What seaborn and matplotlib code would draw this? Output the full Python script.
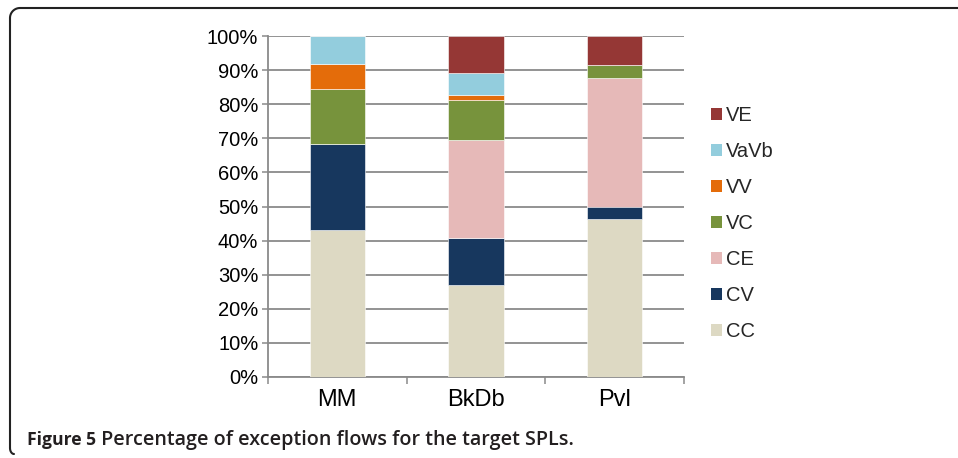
import numpy as np
import pandas as pd
import matplotlib
matplotlib.use("Agg")
import matplotlib.pyplot as plt
from matplotlib.lines import Line2D
from matplotlib.patches import Patch
import seaborn as sns

categories = ["MM", "BkDb", "Pvl"]
types = ["CC", "CV", "CE", "VC", "VV", "VaVb", "VE"]
cc = [43.1, 27.1, 46.2]
cv = [25.1, 13.6, 3.8]
ce = [0.0, 28.7, 37.8]
vc = [16.3, 11.9, 3.7]
vv = [7.3, 1.4, 0.0]
vavb = [8.2, 6.5, 0.0]
ve = [0.0, 10.8, 8.5]
colors = ["#DDD9C3", "#17375E", "#E6B9B8", "#77933C", "#E46C0A", "#93CDDD", "#953735"]
yticks = list(range(0, 101, 10))
caption_bold = "Figure 5"
caption_rest = " Percentage of exception flows for the target SPLs."

series = [cc, cv, ce, vc, vv, vavb, ve]
rows = []
for t, vals in zip(types, series):
    for c, v in zip(categories, vals):
        rows.append({"spl": c, "type": t, "value": v})
df = pd.DataFrame(rows)
df["spl"] = pd.Categorical(df["spl"], categories=categories, ordered=True)

sns.set_theme(style="white")
plt.rcParams["font.family"] = ["Liberation Sans", "DejaVu Sans"]

fig = plt.figure(figsize=(9.58, 4.58), dpi=100)
ax = fig.add_axes([268 / 958, 1 - 377 / 458, (684 - 268) / 958, (377 - 36) / 458])

palette = dict(zip(types, colors))
sns.histplot(data=df, x="spl", weights="value", hue="type",
             hue_order=types[::-1], palette=palette, multiple="stack",
             discrete=True, shrink=0.4, alpha=1, legend=False,
             edgecolor="white", linewidth=0.4, ax=ax, zorder=3)

ax.set_xlim(-0.5, 2.5)
ax.set_ylim(0, 100)
ax.set_yticks(yticks)
ax.set_yticklabels([f"{v}%" for v in yticks], fontsize=14.5, color="black")
ax.set_xticks(range(len(categories)))
ax.set_xticklabels(categories, fontsize=17, color="black")
ax.set_xticks([-0.5, 0.5, 1.5, 2.5], minor=True)
ax.set_xlabel("")
ax.set_ylabel("")
ax.grid(axis="y", color="#8a8a8a", linewidth=1.3, zorder=0)
ax.grid(axis="x", visible=False)
ax.set_axisbelow(True)
for s in ["top", "right"]:
    ax.spines[s].set_visible(False)
for s in ["left", "bottom"]:
    ax.spines[s].set_visible(True)
    ax.spines[s].set_color("#8a8a8a")
    ax.spines[s].set_linewidth(1.3)
ax.tick_params(axis="y", which="major", left=True, length=4.5, width=1.1, color="#8a8a8a", pad=2.5)
ax.tick_params(axis="x", which="major", bottom=False, length=0, pad=9)
ax.tick_params(axis="x", which="minor", bottom=True, length=5, width=1.1, color="#8a8a8a")

handles = [Patch(facecolor=palette[t], edgecolor="none") for t in types[::-1]]
leg = ax.legend(handles, types[::-1], loc="center left", bbox_to_anchor=(1.045, 0.45),
                frameon=False, fontsize=14.5, handlelength=0.55, handleheight=0.55,
                handletextpad=0.2, labelspacing=0.84, borderaxespad=0)

# frame lines (top and left with rounded corners)
fig.add_artist(Line2D([20 / 958, 1.0], [1 - 8 / 458, 1 - 8 / 458], color="#222222", lw=1.5))
fig.add_artist(Line2D([10 / 958, 10 / 958], [1 - 18 / 458, 1 - 448 / 458], color="#222222", lw=1.5))
t = np.linspace(0, np.pi / 2, 20)
r = 10
cx, cy = 20, 18
fig.add_artist(Line2D((cx - r * np.cos(t)) / 958, 1 - (cy - r * np.sin(t)) / 458, color="#222222", lw=1.5))
cy2 = 448
t2 = np.linspace(0, np.pi / 2, 10)
fig.add_artist(Line2D((10 + 4 * (1 - np.cos(t2))) / 958, 1 - (cy2 + 6 * np.sin(t2)) / 458, color="#222222", lw=1.5))

txt1 = fig.text(27 / 958, 1 - 445 / 458, caption_bold, fontsize=12.6, fontweight="bold",
                family=["Open Sans", "DejaVu Sans"], color="#231f20", va="baseline")
fig.canvas.draw()
bb = txt1.get_window_extent(renderer=fig.canvas.get_renderer())
fig.text(bb.x1 / fig.bbox.width, 1 - 445 / 458, caption_rest, fontsize=14.2, fontweight="semibold",
         family=["Open Sans", "DejaVu Sans"], color="#231f20", va="baseline")

fig.savefig("out.png", dpi=100)
